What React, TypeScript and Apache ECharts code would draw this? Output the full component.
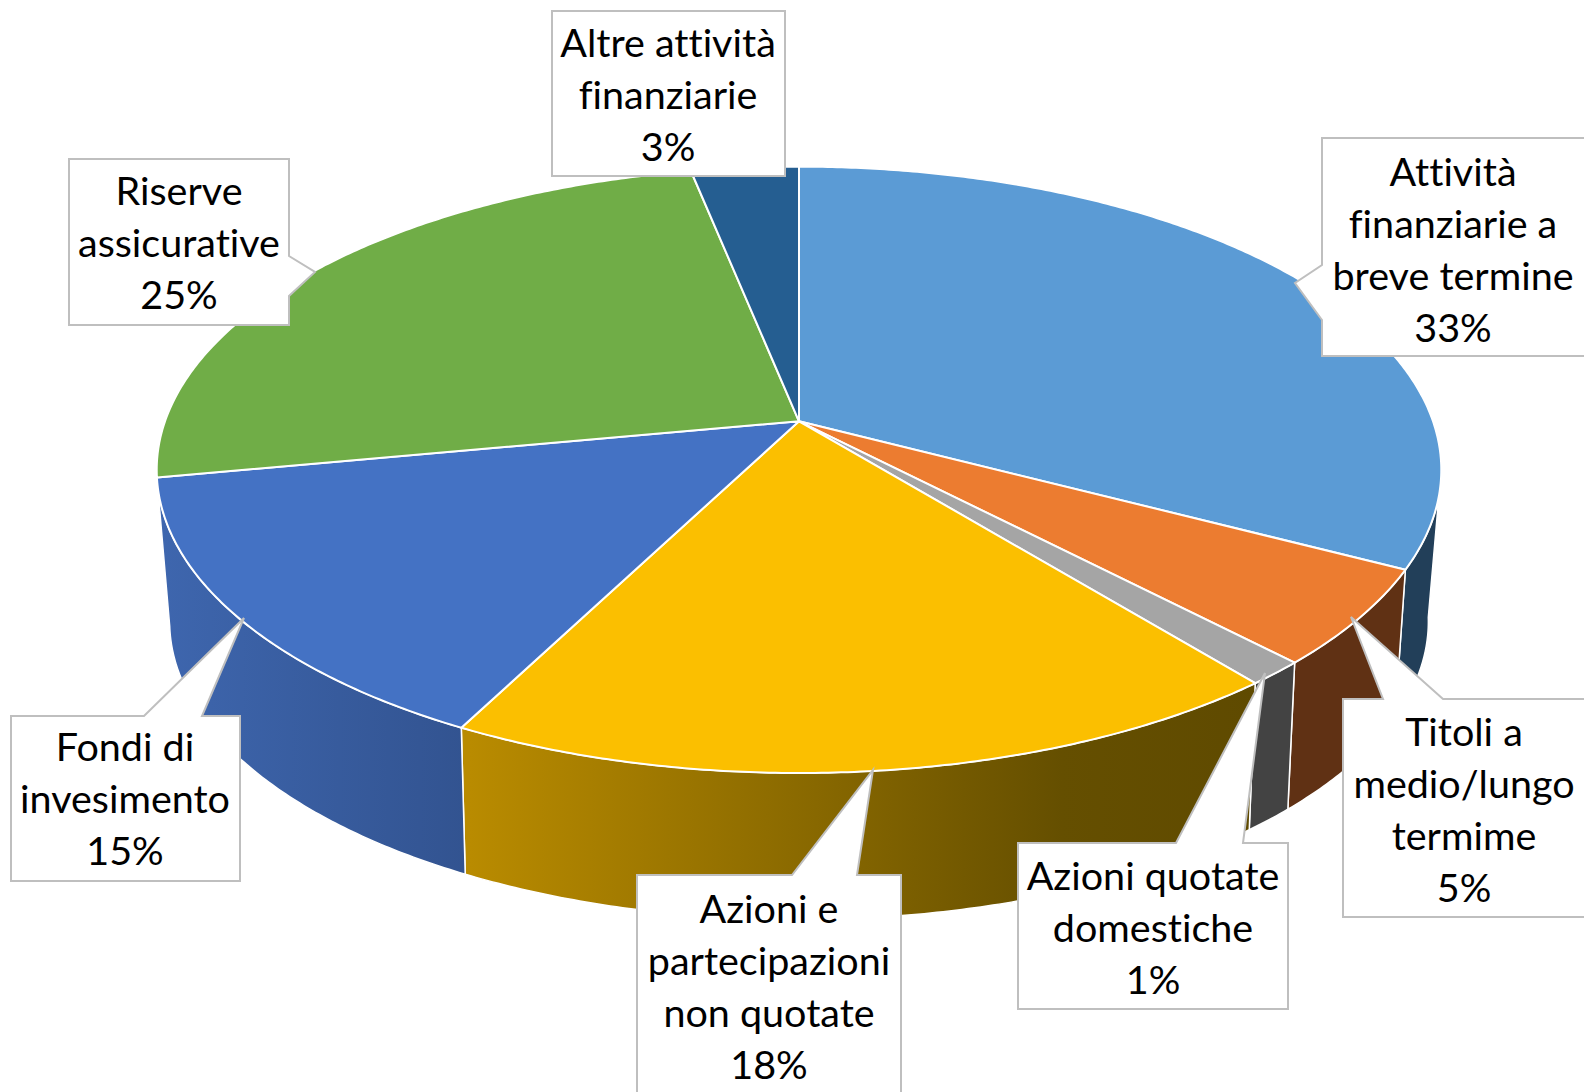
import React, { useEffect, useRef } from "react";
import * as echarts from "echarts";

const names = [
  "Attività finanziarie a breve termine",
  "Titoli a medio/lungo termime",
  "Azioni quotate domestiche",
  "Azioni e partecipazioni non quotate",
  "Fondi di invesimento",
  "Riserve assicurative",
  "Altre attività finanziarie",
];
const values = [32.7, 5.15, 1.3, 18.4, 14.5, 24.79, 3.16];
const labelLines = [
  ["Attività", "finanziarie a", "breve termine"],
  ["Titoli a", "medio/lungo", "termime"],
  ["Azioni quotate", "domestiche"],
  ["Azioni e", "partecipazioni", "non quotate"],
  ["Fondi di", "invesimento"],
  ["Riserve", "assicurative"],
  ["Altre attività", "finanziarie"],
];
const topColors = ["#5B9BD5", "#EC7C30", "#A5A5A5", "#FBBF00", "#4472C4", "#70AD47", "#255E91"];

const CX = 799, CY = 421.3;
const TOP = { a: 634, b: 295.4, p: 0.1601, dy: 0 };
const BOTTOM = { a: 620.2, b: 289.5, p: 0.17, dy: 149.5 };
const WALL_START = 99;
const WALL_END = 259.3;

function project(tDeg: number, e: { a: number; b: number; p: number; dy: number }) {
  const t = (tDeg * Math.PI) / 180;
  const k = 1 + e.p * Math.cos(t);
  return [CX + (e.a * Math.sin(t)) / k, CY + e.dy - (e.b * Math.cos(t)) / k];
}
function arc(a0: number, a1: number, e: typeof TOP) {
  const pts: number[][] = [];
  const n = Math.max(2, Math.ceil(Math.abs(a1 - a0) * 2));
  for (let i = 0; i <= n; i++) pts.push(project(a0 + ((a1 - a0) * i) / n, e));
  return pts;
}
const total = values.reduce((s, v) => s + v, 0);
function range(i: number) {
  let c = 0;
  for (let k = 0; k < i; k++) c += values[k];
  return [(c / total) * 360, ((c + values[i]) / total) * 360];
}

const grad = (x0: number, x1: number, stops: [number, string][]) =>
  new echarts.graphic.LinearGradient(x0, 0, x1, 0, stops.map(([offset, color]) => ({ offset, color })), true);

const wallFills: any[] = [
  "#223F59",
  "#603114",
  "#434343",
  grad(470, 1260, [[0, "#B98B00"], [0.75, "#654F00"], [1, "#5F4A00"]]),
  grad(160, 470, [[0, "#3E66AE"], [1, "#325390"]]),
  "#43682B",
  "#163857",
];

// Callout geometry: outline points, text centre
const callouts: { pts: number[][]; c: number[] }[] = [
  { pts: [[1322, 138], [1600, 138], [1600, 356], [1322, 356], [1322, 320], [1295, 283], [1322, 265]], c: [1453, 248] },
  { pts: [[1343, 699], [1383, 699], [1351, 617], [1443, 699], [1600, 699], [1600, 917], [1343, 917]], c: [1464, 808] },
  { pts: [[1018, 843], [1176, 843], [1265, 673], [1243, 843], [1288, 843], [1288, 1009], [1018, 1009]], c: [1153, 926] },
  { pts: [[637, 875], [792, 875], [873, 770], [857, 875], [901, 875], [901, 1110], [637, 1110]], c: [769, 985] },
  { pts: [[11, 716], [144, 716], [244, 618], [202, 716], [240, 716], [240, 881], [11, 881]], c: [125, 797.5] },
  { pts: [[69, 159], [289, 159], [289, 256], [315, 272], [289, 296], [289, 325], [69, 325]], c: [179, 241] },
  { pts: [[552, 11], [785, 11], [785, 176], [552, 176]], c: [668, 93] },
];

export default function App() {
  const ref = useRef<HTMLDivElement>(null);
  useEffect(() => {
    document.body.style.margin = "0";
    document.body.style.background = "#fff";
    const chart = echarts.init(ref.current!, undefined, { renderer: "svg" });
    const elements: any[] = [];
    callouts.forEach((co, i) => {
      elements.push({
        type: "polygon",
        z: 100,
        silent: true,
        shape: { points: co.pts },
        style: { fill: "#fff", stroke: "#BFBFBF", lineWidth: 2 },
      });
      elements.push({
        type: "text",
        z: 101,
        silent: true,
        x: co.c[0],
        y: co.c[1],
        style: {
          text: [...labelLines[i], `${Math.round(values[i])}%`].join("\n"),
          fontFamily: "Lato",
          fontSize: 39.5,
          lineHeight: 52,
          fill: "#000",
          align: "center",
          verticalAlign: "middle",
        },
      });
    });
    chart.setOption({
      animation: false,
      backgroundColor: "#fff",
      series: [
        {
          type: "custom",
          name: "Lati",
          coordinateSystem: "none",
          silent: true,
          z: 1,
          data: values.map((value, i) => ({ name: names[i], value })),
          renderItem: (params: any) => {
            const i = params.dataIndex;
            const [a0, a1] = range(i);
            const s = Math.max(a0, WALL_START);
            const e = Math.min(a1, WALL_END);
            if (e <= s) return { type: "group", children: [] };
            return {
              type: "polygon",
              shape: { points: [...arc(s, e, TOP), ...arc(e, s, BOTTOM)] },
              style: { fill: wallFills[i], stroke: "#fff", lineWidth: 1.5 },
            };
          },
        },
        {
          type: "custom",
          name: "Quote",
          coordinateSystem: "none",
          silent: true,
          z: 2,
          data: values.map((value, i) => ({ name: names[i], value })),
          renderItem: (params: any) => {
            const i = params.dataIndex;
            const [a0, a1] = range(i);
            return {
              type: "polygon",
              shape: { points: [[CX, CY], ...arc(a0, a1, TOP)] },
              style: { fill: topColors[i], stroke: "#fff", lineWidth: 2, lineJoin: "round" },
            };
          },
        },
      ],
      graphic: { z: 100, elements },
    });
    return () => chart.dispose();
  }, []);
  return (
    <>
      <style>{`svg text { font-variant-ligatures: none !important; font-feature-settings: "liga" 0 !important; }`}</style>
      <div ref={ref} style={{ position: "absolute", left: 0, top: 0, width: 1584, height: 1092 }} />
    </>
  );
}
